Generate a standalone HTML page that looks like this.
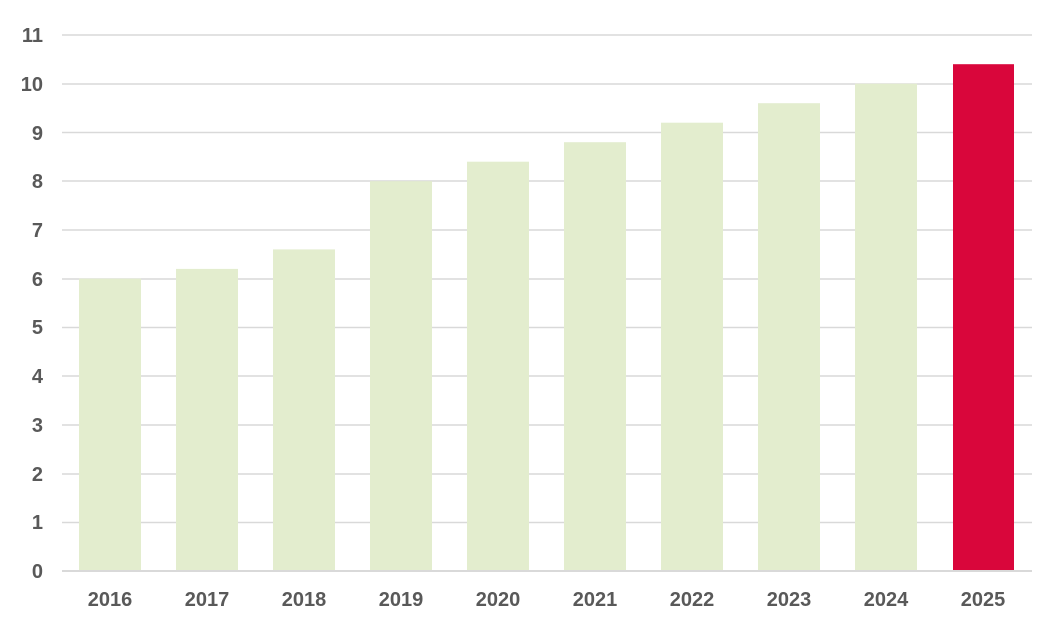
<!DOCTYPE html>
<html><head><style>body{margin:0;background:#fff}svg{display:block}text{font-family:"Liberation Sans",sans-serif;font-weight:bold;fill:#595959;font-size:20px}</style></head>
<body>
<svg width="1064" height="628" viewBox="0 0 1064 628">
<g stroke="#d9d9d9" stroke-width="1.5">
<line x1="62" x2="1032" y1="35" y2="35"/><line x1="62" x2="1032" y1="84" y2="84"/><line x1="62" x2="1032" y1="132.5" y2="132.5"/><line x1="62" x2="1032" y1="181" y2="181"/><line x1="62" x2="1032" y1="230" y2="230"/><line x1="62" x2="1032" y1="279" y2="279"/><line x1="62" x2="1032" y1="327.5" y2="327.5"/><line x1="62" x2="1032" y1="376" y2="376"/><line x1="62" x2="1032" y1="425" y2="425"/><line x1="62" x2="1032" y1="474" y2="474"/><line x1="62" x2="1032" y1="522.5" y2="522.5"/>
</g>
<g fill="#e3edce">
<rect x="79" y="278.6" width="62" height="292.4"/>
<rect x="176" y="268.9" width="62" height="302.1"/>
<rect x="273" y="249.4" width="62" height="321.6"/>
<rect x="370" y="181.2" width="62" height="389.8"/>
<rect x="467" y="161.7" width="62" height="409.3"/>
<rect x="564" y="142.2" width="62" height="428.8"/>
<rect x="661" y="122.7" width="62" height="448.3"/>
<rect x="758" y="103.2" width="62" height="467.8"/>
<rect x="855" y="83.7" width="62" height="487.3"/>
</g>
<rect x="953" y="64.2" width="61" height="506.8" fill="#d9063b"/>
<line x1="62" x2="1032" y1="571" y2="571" stroke="#d9d9d9" stroke-width="2"/>
<g text-anchor="end">
<text x="43" y="578">0</text><text x="43" y="529">1</text><text x="43" y="481">2</text><text x="43" y="432">3</text><text x="43" y="383">4</text><text x="43" y="334">5</text><text x="43" y="286">6</text><text x="43" y="237">7</text><text x="43" y="188">8</text><text x="43" y="140">9</text><text x="43" y="91">10</text><text x="43" y="42">11</text>
</g>
<g text-anchor="middle">
<text x="110" y="606">2016</text><text x="207" y="606">2017</text><text x="304" y="606">2018</text><text x="401" y="606">2019</text><text x="498" y="606">2020</text><text x="595" y="606">2021</text><text x="692" y="606">2022</text><text x="789" y="606">2023</text><text x="886" y="606">2024</text><text x="983" y="606">2025</text>
</g>
</svg>
</body></html>
